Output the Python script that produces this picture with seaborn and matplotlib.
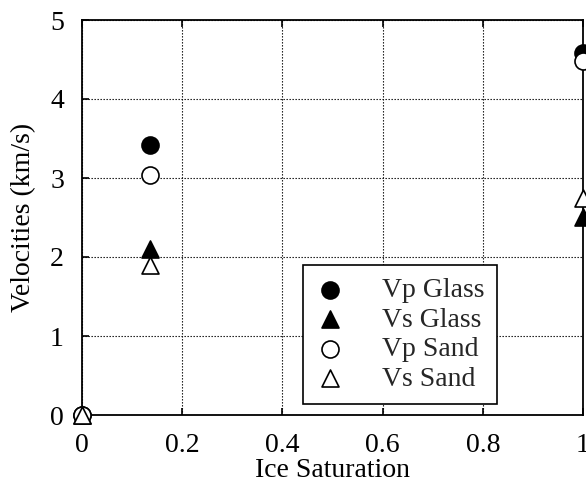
import matplotlib
matplotlib.use("Agg")
import matplotlib.pyplot as plt
import seaborn as sns
import pandas as pd

ice_sat = [0.0, 0.135, 1.0]
vp_glass = [0.0, 3.42, 4.58]
vs_glass = [0.0, 2.10, 2.50]
vp_sand = [0.0, 3.04, 4.48]
vs_sand = [0.0, 1.90, 2.75]
series_names = ["Vp Glass", "Vs Glass", "Vp Sand", "Vs Sand"]
x_ticks = [0, 0.2, 0.4, 0.6, 0.8, 1]
x_tick_labels = ["0", "0.2", "0.4", "0.6", "0.8", "1"]
y_ticks = [0, 1, 2, 3, 4, 5]

sns.set_theme(style="white")
plt.rcParams["font.family"] = ["Liberation Serif", "DejaVu Serif"]

fig = plt.figure(figsize=(5.86, 4.94), dpi=100)
ax = fig.add_axes([82/586, 1-415/494, 501/586, (415-20)/494])

styles = {
    "Vp Glass": dict(marker="o", facecolor="black"),
    "Vs Glass": dict(marker="^", facecolor="black"),
    "Vp Sand": dict(marker="o", facecolor="white"),
    "Vs Sand": dict(marker="^", facecolor="white"),
}
values = [vp_glass, vs_glass, vp_sand, vs_sand]
for name, vals in zip(series_names, values):
    df = pd.DataFrame({"x": ice_sat, "y": vals})
    st = styles[name]
    sns.scatterplot(data=df, x="x", y="y", ax=ax, marker=st["marker"], s=150,
                    color=st["facecolor"], edgecolor="black", linewidth=1.2,
                    label=name, clip_on=False, zorder=5)

ax.set_xlim(0, 1)
ax.set_ylim(0, 5)
ax.set_xticks(x_ticks)
ax.set_xticklabels(x_tick_labels)
ax.set_yticks(y_ticks)
ax.grid(True, color="black", linestyle=(0, (1.2, 1.5)), linewidth=0.8)
for sp in ax.spines.values():
    sp.set_color("black")
    sp.set_linewidth(1.3)
ax.tick_params(axis="both", direction="in", length=5, width=1.2, colors="black",
               labelsize=20, pad=13, top=True, right=False, bottom=True, left=True)
ax.set_xlabel("Ice Saturation", fontsize=20, color="black", labelpad=0)
ax.set_ylabel("Velocities (km/s)", fontsize=20, color="black", labelpad=10)

leg = ax.legend(loc="upper left", bbox_to_anchor=((303-82)/501, (415-265)/395),
                frameon=True, fontsize=20, fancybox=False, edgecolor="black",
                framealpha=1, handletextpad=1.35, borderpad=0.45, labelspacing=0.15,
                handlelength=1.04, borderaxespad=0)
leg.get_frame().set_linewidth(1.2)
leg.set_zorder(10)

fig.savefig("out.png", dpi=100)
